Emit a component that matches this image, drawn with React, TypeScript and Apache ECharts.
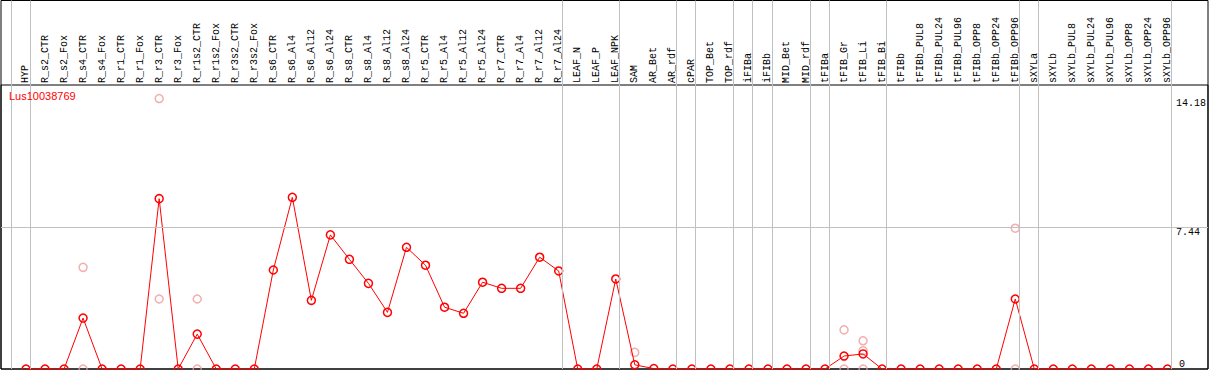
import React, { useEffect, useRef } from "react";
import * as echarts from "echarts";

const geneName = "Lus10038769";

const categories = [
  "HYP", "R_s2_CTR", "R_s2_Fox", "R_s4_CTR", "R_s4_Fox", "R_r1_CTR", "R_r1_Fox", "R_r3_CTR", "R_r3_Fox",
  "R_r1s2_CTR", "R_r1s2_Fox", "R_r3s2_CTR", "R_r3s2_Fox", "R_s6_CTR", "R_s6_Al4", "R_s6_Al12", "R_s6_Al24",
  "R_s8_CTR", "R_s8_Al4", "R_s8_Al12", "R_s8_Al24", "R_r5_CTR", "R_r5_Al4", "R_r5_Al12", "R_r5_Al24",
  "R_r7_CTR", "R_r7_Al4", "R_r7_Al12", "R_r7_Al24", "LEAF_N", "LEAF_P", "LEAF_NPK", "SAM", "AR_Bet", "AR_rdf",
  "cPAR", "TOP_Bet", "TOP_rdf", "iFIBa", "iFIBb", "MID_Bet", "MID_rdf", "tFIBa", "tFIB_Gr", "tFIB_Li", "tFIB_Bi",
  "tFIBb", "tFIBb_PUL8", "tFIBb_PUL24", "tFIBb_PUL96", "tFIBb_OPP8", "tFIBb_OPP24", "tFIBb_OPP96",
  "sXYLa", "sXYLb", "sXYLb_PUL8", "sXYLb_PUL24", "sXYLb_PUL96", "sXYLb_OPP8", "sXYLb_OPP24", "sXYLb_OPP96",
];

const meanValues = [
  0, 0, 0, 2.67, 0, 0, 0, 8.93, 0,
  1.83, 0, 0, 0, 5.19, 9.0, 3.6, 7.03,
  5.75, 4.49, 2.97, 6.38, 5.44, 3.24, 2.92, 4.55,
  4.23, 4.23, 5.86, 5.14, 0, 0, 4.72, 0.22, 0.02, 0,
  0, 0, 0, 0, 0, 0, 0, 0, 0.68, 0.79, 0,
  0, 0, 0, 0, 0, 0, 3.67,
  0, 0, 0, 0, 0, 0, 0, 0,
];

const replicates: [string, number[]][] = [
  ["R_s4_CTR", [5.33, 0]],
  ["R_r3_CTR", [14.18, 3.67]],
  ["R_r1s2_CTR", [3.67, 0]],
  ["SAM", [0.87]],
  ["tFIB_Gr", [2.05, 0]],
  ["tFIB_Li", [1.48, 0.96, 0]],
  ["tFIBb_OPP96", [7.38, 0]],
];

// group separators come after these category indices
const groupEnds = [-1, 0, 28, 31, 34, 35, 37, 38, 39, 41, 42, 45, 52, 53, 60];

const yTickUpper = [7.44, 14.18];
const yTickLower = [0];
const yMaxValue = 14.18;

export default function App() {
  const ref = useRef<HTMLDivElement>(null);
  useEffect(() => {
    document.body.style.margin = "0";
    const chart = echarts.init(ref.current!, null, { renderer: "svg" });
    const xMin = -1.314;
    const xMax = 62.13;
    const yMax = yMaxValue * 1.05;
    const mono = "Liberation Mono";

    const repData: [number, number][] = [];
    replicates.forEach(([name, vals]) => {
      const i = categories.indexOf(name);
      vals.forEach((v) => repData.push([i, v]));
    });

    const xBase = { type: "value", min: xMin, max: xMax, axisLine: { show: false }, axisTick: { show: false }, splitLine: { show: false } };
    const yBase = { type: "value", min: 0, max: yMax, axisLine: { show: false }, axisTick: { show: false }, splitLine: { show: false } };

    chart.setOption({
      animation: false,
      title: {
        text: geneName,
        left: 9,
        top: 90,
        padding: 0,
        textStyle: { color: "#ff0000", fontSize: 11, fontWeight: "normal", fontFamily: "Liberation Sans" },
      },
      grid: [
        { left: 1, right: 1, top: 85, bottom: 1, show: true, borderColor: "#000", borderWidth: 1, backgroundColor: "transparent" },
        { left: 1, right: 1, top: 0.5, bottom: 1, show: true, borderColor: "#000", borderWidth: 1, backgroundColor: "transparent" },
      ],
      xAxis: [
        {
          ...xBase,
          gridIndex: 0,
          position: "top",
          axisLabel: {
            customValues: categories.map((_, i) => i),
            formatter: (v: number) => categories[Math.round(v)] ?? "",
            rotate: 90,
            margin: 2,
            fontFamily: mono,
            fontSize: 10,
            color: "#000",
          },
        },
        { ...xBase, gridIndex: 1, axisLabel: { show: false } },
      ],
      yAxis: [
        { ...yBase, gridIndex: 0, axisLabel: { show: false } },
        {
          ...yBase,
          gridIndex: 0,
          position: "right",
          axisLabel: {
            customValues: yTickUpper,
            formatter: (v: number) => String(v),
            inside: true,
            align: "left",
            margin: 32,
            verticalAlign: "top",
            fontFamily: mono,
            fontSize: 10,
            color: "#000",
          },
        },
        {
          ...yBase,
          gridIndex: 0,
          position: "right",
          axisLabel: {
            customValues: yTickLower,
            formatter: (v: number) => String(v),
            inside: true,
            align: "left",
            margin: 29,
            verticalAlign: "bottom",
            fontFamily: mono,
            fontSize: 10,
            color: "#000",
          },
        },
        { type: "value", gridIndex: 1, min: 0, max: 1, show: false },
      ],
      series: [
        {
          type: "line",
          xAxisIndex: 1,
          yAxisIndex: 3,
          data: [],
          silent: true,
          markLine: {
            silent: true,
            symbol: "none",
            label: { show: false },
            lineStyle: { color: "#c0c0c0", type: "solid", width: 1 },
            data: groupEnds.map((g) => ({ xAxis: g + 0.2 })),
          },
        },
        {
          type: "line",
          xAxisIndex: 0,
          yAxisIndex: 0,
          data: [],
          silent: true,
          markLine: {
            silent: true,
            symbol: "none",
            label: { show: false },
            lineStyle: { color: "#c0c0c0", type: "solid", width: 1 },
            data: [{ yAxis: yTickUpper[0] }],
          },
        },
        {
          type: "scatter",
          xAxisIndex: 0,
          yAxisIndex: 0,
          data: repData,
          symbol: "circle",
          symbolSize: 8,
          itemStyle: { color: "rgba(0,0,0,0)", borderColor: "#f09a9a", borderWidth: 1.5 },
        },
        {
          type: "line",
          xAxisIndex: 0,
          yAxisIndex: 0,
          data: meanValues.map((v, i) => [i, v]),
          symbol: "circle",
          symbolSize: 8,
          clip: false,
          lineStyle: { color: "#ff0000", width: 1 },
          itemStyle: { color: "rgba(0,0,0,0)", borderColor: "#ff0000", borderWidth: 1.5 },
        },
      ],
    });
    return () => chart.dispose();
  }, []);
  return <div ref={ref} style={{ width: 1209, height: 370 }} />;
}
